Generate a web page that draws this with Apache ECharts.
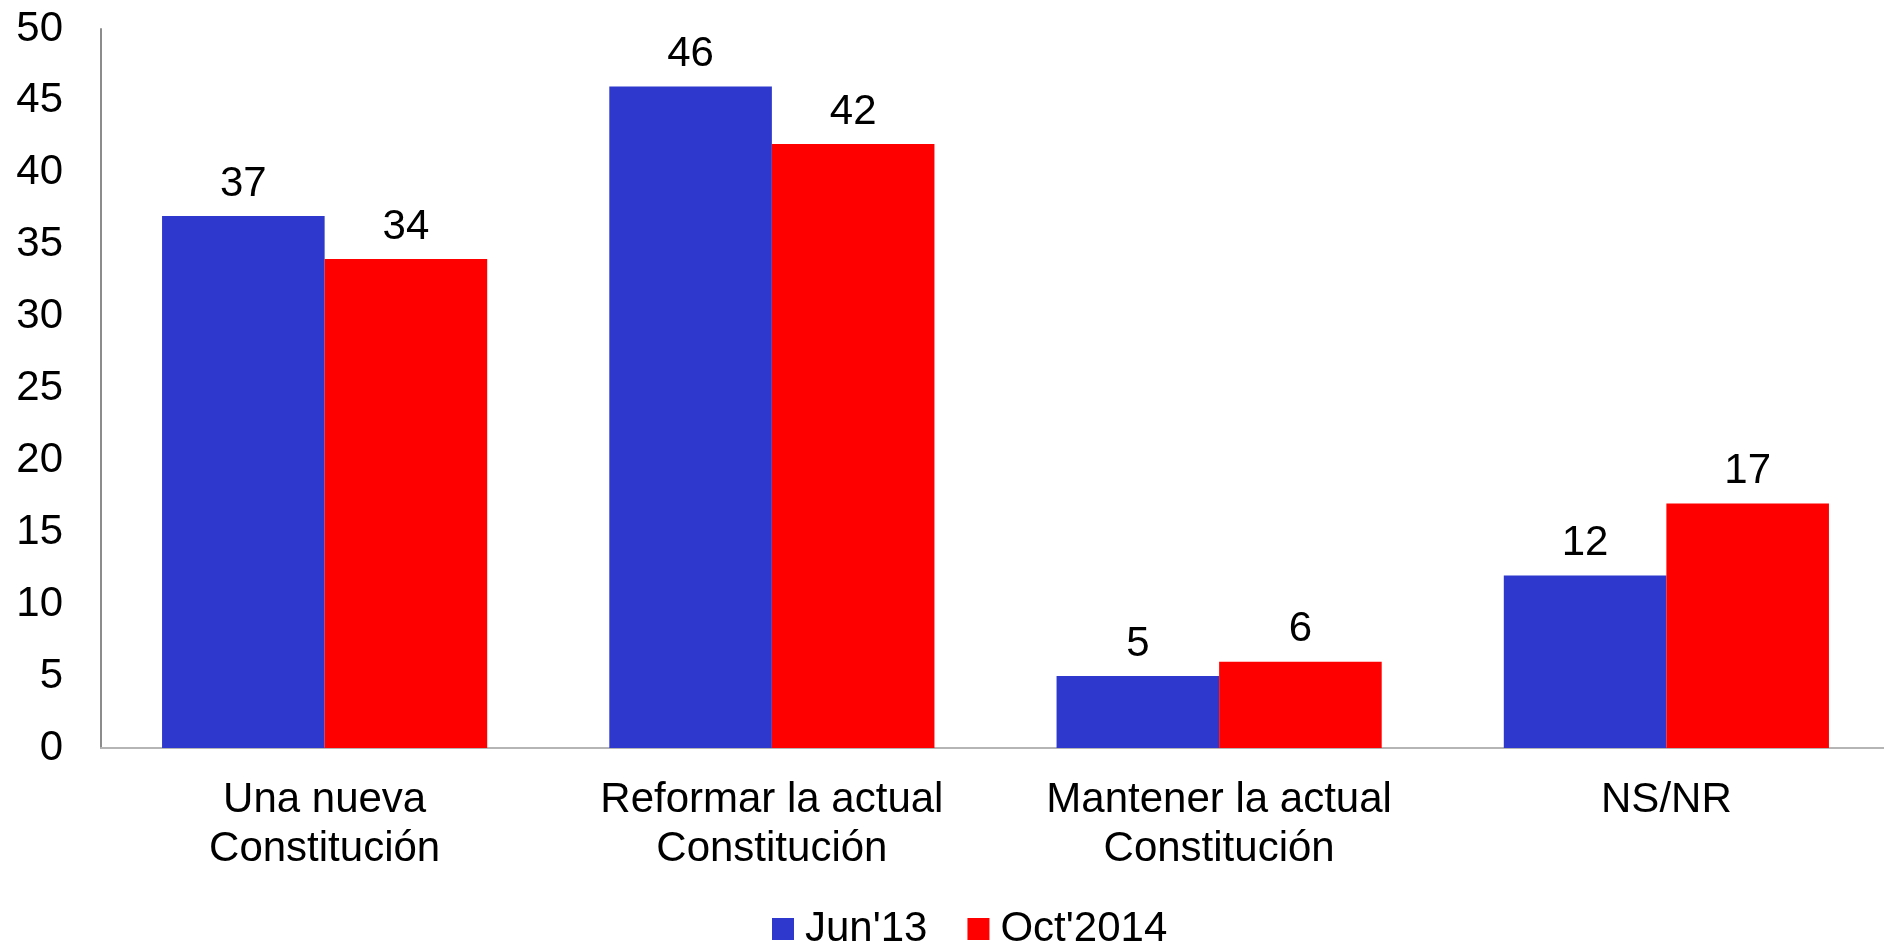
<!DOCTYPE html>
<html>
<head>
<meta charset="utf-8">
<script src="https://cdn.jsdelivr.net/npm/echarts@6/dist/echarts.min.js"></script>
<style>
  html, body { margin: 0; padding: 0; background: #fff; overflow: hidden; }
  /* the plot runs a few pixels past the right edge of the window */
  #chart { width: 1890px; height: 943px; }
</style>
</head>
<body>
<div id="chart"></div>
<script>
// Survey: preferred path for the Constitution
const categories = ['Una nueva\nConstitución', 'Reformar la actual\nConstitución', 'Mantener la actual\nConstitución', 'NS/NR'];
const seriesNames = ["Jun'13", "Oct'2014"];
const jun13 = [37, 46, 5, 12];
const oct2014 = [34, 42, 6, 17];
const yTicks = { min: 0, max: 50, interval: 5 };

const FONT = '"Liberation Sans", Arial, sans-serif';
const chart = echarts.init(document.getElementById('chart'));

const labelStyle = {
  show: true,
  position: 'top',
  distance: 11,
  color: '#000',
  fontSize: 42,
  fontFamily: FONT
};

chart.setOption({
  animation: false,
  textStyle: { fontFamily: FONT },
  grid: { left: 101, top: 29, right: 0, height: 719, containLabel: false },
  legend: {
    data: seriesNames,
    left: 767,
    top: 903,
    itemWidth: 22,
    itemHeight: 22,
    itemGap: 40,
    icon: 'rect',
    textStyle: { fontSize: 42, color: '#000', fontFamily: FONT, padding: [0, 0, 0, 6] }
  },
  xAxis: {
    type: 'category',
    data: categories,
    axisLine: { show: true, lineStyle: { color: '#b5b5b5', width: 2 } },
    axisTick: { show: false },
    axisLabel: {
      color: '#000',
      fontSize: 42,
      fontFamily: FONT,
      lineHeight: 49,
      margin: 28,
      interval: 0
    }
  },
  yAxis: {
    type: 'value',
    min: yTicks.min,
    max: yTicks.max,
    interval: yTicks.interval,
    splitLine: { show: false },
    axisTick: { show: false },
    axisLine: { show: true, lineStyle: { color: '#8c8c8c', width: 2 } },
    axisLabel: { color: '#000', fontSize: 42, fontFamily: FONT, margin: 38, padding: [7, 0, 0, 0] }
  },
  series: [
    {
      name: seriesNames[0],
      type: 'bar',
      data: jun13,
      barGap: '0%',
      barCategoryGap: '27.3%',
      itemStyle: { color: '#2E38CC' },
      label: labelStyle
    },
    {
      name: seriesNames[1],
      type: 'bar',
      data: oct2014,
      barGap: '0%',
      barCategoryGap: '27.3%',
      itemStyle: { color: '#FF0000' },
      label: labelStyle
    }
  ]
});
</script>
</body>
</html>
